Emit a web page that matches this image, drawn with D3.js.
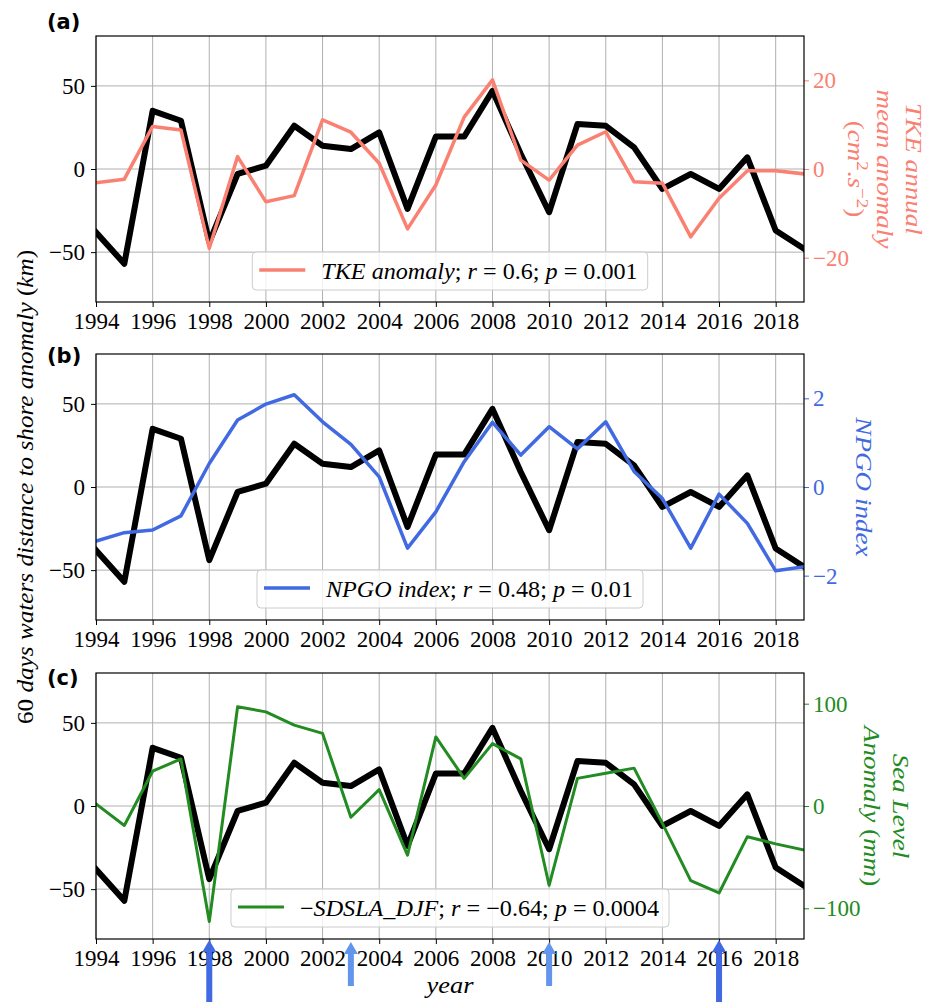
<!DOCTYPE html>
<html lang="en">
<head>
<meta charset="UTF-8">
<title>distance to shore anomaly</title>
<script src="https://cdn.jsdelivr.net/npm/d3@7/dist/d3.min.js"></script>
<style>
  * { margin: 0; padding: 0; }
  body { background: #fff; }
  #app { width: 929px; height: 1002px; }
  svg text { font-family: "Liberation Serif", serif; white-space: pre; }
  svg text.tag { font-family: "DejaVu Sans", sans-serif; font-weight: bold; }
  .grid line { stroke: #b0b0b0; stroke-width: 1; }
</style>
</head>
<body>
<div id="app"></div>
<script>
  // years on the x axis
  const years = [1994, 1995, 1996, 1997, 1998, 1999, 2000, 2001, 2002, 2003, 2004, 2005, 2006,
    2007, 2008, 2009, 2010, 2011, 2012, 2013, 2014, 2015, 2016, 2017, 2018, 2019];

  // 60 days waters distance to shore anomaly (km), same black line in every panel
  const distance = [-38, -57, 35, 29, -44, -3, 2, 26, 14, 12, 22, -24, 19.5,
    19.5, 47, 9, -26, 27, 26, 13, -12, -3, -12, 7, -37, -48];

  // TKE annual mean anomaly (cm2.s-2)
  const tke = [-3.1, -2.3, 9.6, 8.8, -17.9, 2.8, -7.4, -6.0, 11.1, 8.3, 1.3, -13.5, -3.6,
    11.7, 20.1, 2.0, -2.5, 5.4, 8.4, -2.9, -3.2, -15.3, -6.6, -0.4, -0.4, -1.1];

  // NPGO index
  const npgo = [-1.22, -1.03, -0.97, -0.65, 0.53, 1.51, 1.87, 2.08, 1.47, 0.96, 0.23, -1.38, -0.56,
    0.57, 1.46, 0.72, 1.36, 0.86, 1.47, 0.35, -0.26, -1.38, -0.16, -0.82, -1.89, -1.80];

  // -SDSLA DJF, sea level anomaly (mm)
  const sla = [2, -19, 34, 46, -113, 97, 92, 79, 71, -11, 16, -48, 67.5,
    27, 61, 46, -77.5, 27, 32, 37, -17, -73, -85, -30, -37, -43];

  // tick labels
  const xTicks = [1994, 1996, 1998, 2000, 2002, 2004, 2006, 2008, 2010, 2012, 2014, 2016, 2018];
  const leftTicks = [-50, 0, 50];
  const tkeTicks = [-20, 0, 20];
  const npgoTicks = [-2, 0, 2];
  const slaTicks = [-100, 0, 100];

  // el nino winters marked with arrows
  const strongNinoYears = [1998, 2016];
  const moderateNinoYears = [2003, 2010];

  const $width = 929, $height = 1002;
  const left = 96, right = 804, panelH = 266;

  const svg = d3.select("#app").append("svg")
    .attr("width", $width).attr("height", $height)
    .style("display", "block");

  const scaleX = d3.scaleLinear().domain([1994, 2019]).range([left, right]);

  // writes a latex-ish string: letters italic, the rest upright, ^{..} as superscript
  function mathText(sel, str) {
    const parts = str.match(/\^\{[^}]*\}|[A-Za-z]+|[^A-Za-z^]+/g);
    parts.forEach(function (p) {
      if (p[0] === "^") {
        mathText(sel.append("tspan").attr("baseline-shift", "super").attr("font-size", "70%"), p.slice(2, -1));
        return;
      }
      sel.append("tspan").text(p).attr("font-style", /[A-Za-z]/.test(p) ? "italic" : "normal");
    });
    return sel;
  }

  const panels = [
    {
      top: 36, tag: "(a)", tagY: 29, values: tke, domain: [-30, 30], ticks: tkeTicks,
      color: "#fa8072", width: 3.5,
      label: ["TKE annual", "mean anomaly", "(cm^{2}.s^{−2})"], labelX: [906, 877, 848],
      legend: "TKE anomaly; r = 0.6; p = 0.001"
    },
    {
      top: 354, tag: "(b)", tagY: 363, values: npgo, domain: [-3, 3], ticks: npgoTicks,
      color: "#4169e1", width: 3.5,
      label: ["NPGO index"], labelX: [856],
      legend: "NPGO index; r = 0.48; p = 0.01"
    },
    {
      top: 673, tag: "(c)", tagY: 685, values: sla, domain: [-130, 130], ticks: slaTicks,
      color: "#228b22", width: 3,
      label: ["Sea Level", "Anomaly (mm)"], labelX: [893, 864],
      legend: "−SDSLA_DJF; r = −0.64; p = 0.0004"
    }
  ];

  panels.forEach(function (p, i) {
    const top = p.top, bottom = p.top + panelH;
    const scaleY = d3.scaleLinear().domain([-80, 80]).range([bottom, top]);
    const scaleY2 = d3.scaleLinear().domain(p.domain).range([bottom, top]);

    const g = svg.append("g");

    g.append("clipPath").attr("id", "clip" + i).append("rect")
      .attr("x", left).attr("y", top).attr("width", right - left).attr("height", panelH);

    // grid
    const grid = g.append("g").classed("grid", true);
    grid.selectAll(".gx").data(xTicks).enter().append("line")
      .attr("x1", d => scaleX(d)).attr("x2", d => scaleX(d))
      .attr("y1", top).attr("y2", bottom);
    grid.selectAll(".gy").data(leftTicks).enter().append("line")
      .attr("x1", left).attr("x2", right)
      .attr("y1", d => scaleY(d)).attr("y2", d => scaleY(d));

    const line = d3.line().x((d, j) => scaleX(years[j]));

    // black distance line
    g.append("path").datum(distance)
      .attr("clip-path", "url(#clip" + i + ")")
      .attr("fill", "none").attr("stroke", "#000").attr("stroke-width", 6)
      .attr("stroke-linejoin", "round").attr("stroke-linecap", "square")
      .attr("d", line.y(d => scaleY(d)));

    // coloured series on the twin axis
    g.append("path").datum(p.values)
      .attr("clip-path", "url(#clip" + i + ")")
      .attr("fill", "none").attr("stroke", p.color).attr("stroke-width", p.width)
      .attr("stroke-linejoin", "round").attr("stroke-linecap", "square")
      .attr("d", line.y(d => scaleY2(d)));

    // axes
    const axisX = d3.axisBottom(scaleX).tickValues(xTicks).tickFormat(d3.format("d"))
      .tickSize(5).tickPadding(6);
    const axisY = d3.axisLeft(scaleY).tickValues(leftTicks).tickFormat(d3.format("d"))
      .tickSize(5).tickPadding(6);
    const axisY2 = d3.axisRight(scaleY2).tickValues(p.ticks).tickFormat(d3.format("d"))
      .tickSize(5).tickPadding(4);

    const ax = g.append("g").attr("transform", "translate(0," + bottom + ")").call(axisX);
    const ay = g.append("g").attr("transform", "translate(" + left + ",0)").call(axisY);
    const ay2 = g.append("g").attr("transform", "translate(" + right + ",0)").call(axisY2);

    [ax, ay, ay2].forEach(function (a) {
      a.select(".domain").remove();
      a.selectAll("text").attr("font-size", 23).attr("fill", "#000");
      a.selectAll("line").attr("stroke", "#000").attr("stroke-width", 1);
    });
    ay2.selectAll("text").attr("fill", p.color);
    ay2.selectAll("line").attr("stroke", p.color);

    // frame
    g.append("rect").attr("x", left).attr("y", top).attr("width", right - left).attr("height", panelH)
      .attr("fill", "none").attr("stroke", "#000").attr("stroke-width", 1.2);

    // legend, lower center (text stretched a little, math fonts run wide)
    const lg = g.append("g");
    const tg = lg.append("g");
    const lt = mathText(tg.append("text").attr("font-size", 23).attr("fill", "#000"), p.legend);
    const stretch = 1.05;
    const tw = lt.node().getComputedTextLength() * stretch;
    const boxW = 7 + 46 + 16 + tw + 10;
    const bx = (left + right) / 2 - boxW / 2;
    tg.attr("transform", "translate(" + (bx + 7 + 46 + 16) + "," + (bottom - 23) + ") scale(" + stretch + ",1)");
    lg.insert("rect", "g")
      .attr("x", bx).attr("y", bottom - 50).attr("width", boxW).attr("height", 38)
      .attr("rx", 4).attr("fill", "#fff").attr("fill-opacity", 0.8)
      .attr("stroke", "#cccccc").attr("stroke-width", 1);
    lg.insert("line", "g")
      .attr("x1", bx + 7).attr("x2", bx + 7 + 46)
      .attr("y1", bottom - 32).attr("y2", bottom - 32)
      .attr("stroke", p.color).attr("stroke-width", p.width);

    // twin axis label, rotated clockwise
    const cy = (top + bottom) / 2;
    p.label.forEach(function (s, k) {
      mathText(g.append("text")
        .attr("transform", "translate(" + p.labelX[k] + "," + cy + ") rotate(90) scale(1.13,1)")
        .attr("text-anchor", "middle").attr("font-size", 24).attr("fill", p.color), s);
    });

    // panel tag
    g.append("text").classed("tag", true).text(p.tag).attr("x", 47).attr("y", p.tagY)
      .attr("font-size", 21).attr("fill", "#000");
  });

  // shared y label
  mathText(svg.append("text")
    .attr("transform", "translate(33,487) rotate(-90) scale(1.05,1)")
    .attr("text-anchor", "middle").attr("font-size", 24).attr("fill", "#000"),
    "60 days waters distance to shore anomaly (km)");

  // x label
  mathText(svg.append("text")
    .attr("transform", "translate(" + (left + right) / 2 + ",993) scale(1.1,1)")
    .attr("text-anchor", "middle").attr("font-size", 24).attr("fill", "#000"), "year");

  // arrows under the last panel
  function arrow(year, color, tipY, baseY) {
    const x = scaleX(year), hw = 7, sw = 3, hl = 12;
    const pts = [[x, tipY], [x + hw, tipY + hl], [x + sw, tipY + hl], [x + sw, baseY],
      [x - sw, baseY], [x - sw, tipY + hl], [x - hw, tipY + hl]];
    svg.append("path").attr("d", "M" + pts.join("L") + "Z").attr("fill", color);
  }
  strongNinoYears.forEach(y => arrow(y, "#4169e1", 940, 1004));
  moderateNinoYears.forEach(y => arrow(y, "#6495ed", 942, 986));
</script>
</body>
</html>
